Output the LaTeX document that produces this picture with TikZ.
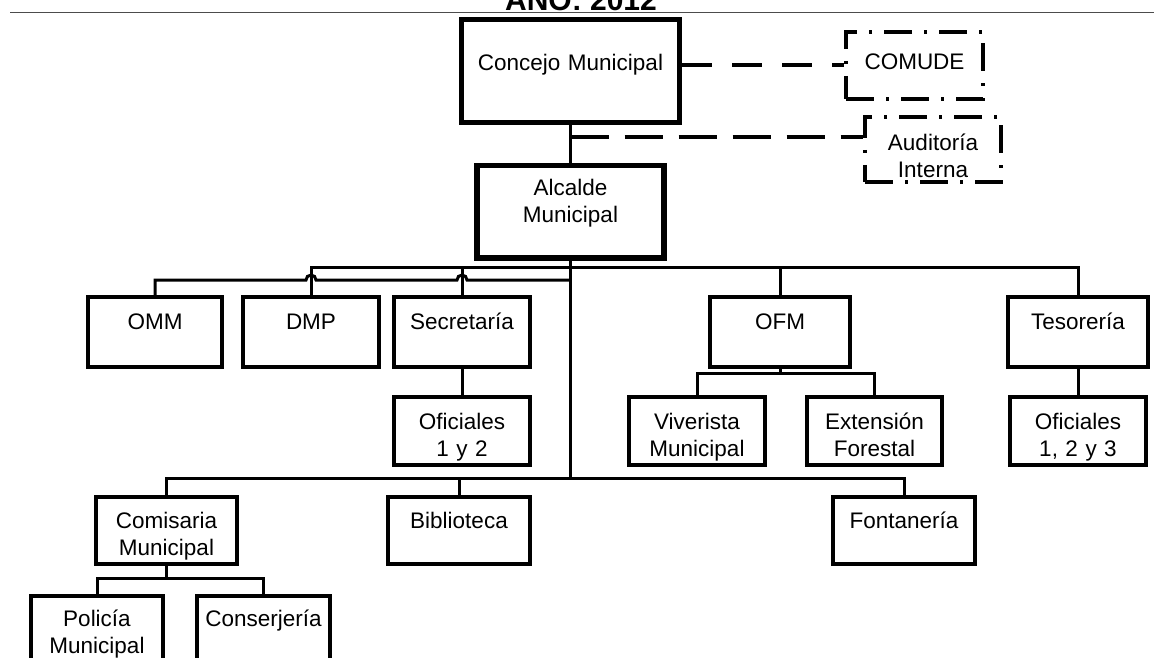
\documentclass[tikz,border=0pt]{standalone}
\usepackage{fontspec}
\setmainfont{Liberation Sans}
\usetikzlibrary{calc}

\begin{document}
\begin{tikzpicture}[
		x=1pt,y=-1pt,
		unit/.style={
			draw,
			line width=3.5pt,
			inner sep=0pt,
			align=center,
			anchor=north,
			font=\fontsize{22.5}{27}\selectfont
		},
		head/.style={
			unit,
			line width=5.5pt
		},
		advice/.style={
			unit,
			line width=4pt,
			dash pattern=on 28pt off 12pt on 3pt off 12pt
		},
		rowa/.style={text height=33pt,text depth=37pt},
		rowb/.style={text height=33pt,text depth=35pt},
		rowc/.style={text height=32pt,text depth=35pt},
		rowd/.style={text height=31pt,text depth=40pt},
		link/.style={line width=3pt},
		staff/.style={line width=4pt,dash pattern=on 30pt off 20pt},
		audit/.style={line width=4pt,dash pattern=on 38pt off 16pt}
		]
		\useasboundingbox (0,0) rectangle (1154,658);
		\clip (0,0) rectangle (1154,658);
		% title and rule
		\node[font=\fontsize{30}{36}\selectfont\bfseries,anchor=base] (year) at (581,11) {AÑO: 2012};
		\coordinate (rulel) at (10,12.5);
		\coordinate (ruler) at (1154,12.5);
		\draw[gray!60!black,line width=1.8pt] (rulel) -- (ruler);
		% upper level
		\node[head,text width=218pt,text height=51pt,text depth=52pt] (concejo) at (570.5,17) {Concejo Municipal};
		\node[advice,text width=137pt,text height=38pt,text depth=29pt] (comude) at (914.5,30) {COMUDE};
		\node[advice,text width=136pt,text height=33pt,text depth=32pt] (auditoria) at (933,115) {Auditoría\\Interna};
		\node[head,text width=187pt,text height=30pt,text depth=62pt] (alcalde) at (570.5,163) {Alcalde\\Municipal};
		% first row
		\node[unit,rowa,text width=134pt] (omm) at (155,295) {OMM};
		\node[unit,rowa,text width=136pt] (dmp) at (311,295) {DMP};
		\node[unit,rowa,text width=136pt] (secretaria) at (462,295) {Secretaría};
		\node[unit,rowa,text width=140pt] (ofm) at (780,295) {OFM};
		\node[unit,rowa,text width=140pt] (tesoreria) at (1078,295) {Tesorería};
		% second row
		\node[unit,rowb,text width=136pt] (oficialesa) at (462,395) {Oficiales\\1 y 2};
		\node[unit,rowb,text width=136pt] (viverista) at (697,395) {Viverista\\Municipal};
		\node[unit,rowb,text width=135pt] (extension) at (874.5,395) {Extensión\\Forestal};
		\node[unit,rowb,text width=136pt] (oficialesb) at (1078,395) {Oficiales\\1, 2 y 3};
		% third row
		\node[unit,rowc,text width=141pt] (comisaria) at (166.5,495) {Comisaria\\Municipal};
		\node[unit,rowc,text width=142pt] (biblioteca) at (459,495) {Biblioteca};
		\node[unit,rowc,text width=142pt] (fontaneria) at (904,495) {Fontanería};
		% fourth row
		\node[unit,rowd,text width=132pt] (policia) at (97,594) {Policía\\Municipal};
		\node[unit,rowd,text width=133pt] (conserjeria) at (263.5,594) {Conserjería};
		% bus points
		\coordinate (tap) at (570.5,137);
		\coordinate (upbus) at (570.5,267);
		\coordinate (lowbus) at (570.5,280);
		\coordinate (basebus) at (570.5,478);
		\coordinate (ofmfork) at (780,373);
		\coordinate (comfork) at (166.5,578);
		% Concejo -> Alcalde, advisory lines
		\draw[link] (concejo.south) -- (alcalde.north);
		\draw[staff] (concejo.east |- comude.west) -- (comude.west);
		\draw[audit] (tap) -- (tap -| auditoria.west);
		% Alcalde -> units
		\draw[link] (alcalde.south) -- (basebus);
		\draw[link] (dmp.north) |- (upbus -| tesoreria.north) -- (tesoreria.north);
		\draw[link] (secretaria.north) -- (secretaria.north |- upbus);
		\draw[link] (ofm.north) -- (ofm.north |- upbus);
		\draw[link] (omm.north) |- ($(dmp.north |- lowbus)+(-5,0)$)
			arc[start angle=180,end angle=0,radius=5pt]
			-- ($(secretaria.north |- lowbus)+(-5,0)$)
			arc[start angle=180,end angle=0,radius=5pt] -- (lowbus);
		\draw[link] (comisaria.north) |- (basebus -| fontaneria.north) -- (fontaneria.north);
		\draw[link] (biblioteca.north) -- (biblioteca.north |- basebus);
		% units -> staff
		\draw[link] (secretaria.south) -- (oficialesa.north);
		\draw[link] (ofm.south) -- (ofmfork);
		\draw[link] (viverista.north) |- (ofmfork) -| (extension.north);
		\draw[link] (tesoreria.south) -- (oficialesb.north);
		\draw[link] (comisaria.south) -- (comfork);
		\draw[link] (policia.north) |- (comfork) -| (conserjeria.north);
\end{tikzpicture}
\end{document}
